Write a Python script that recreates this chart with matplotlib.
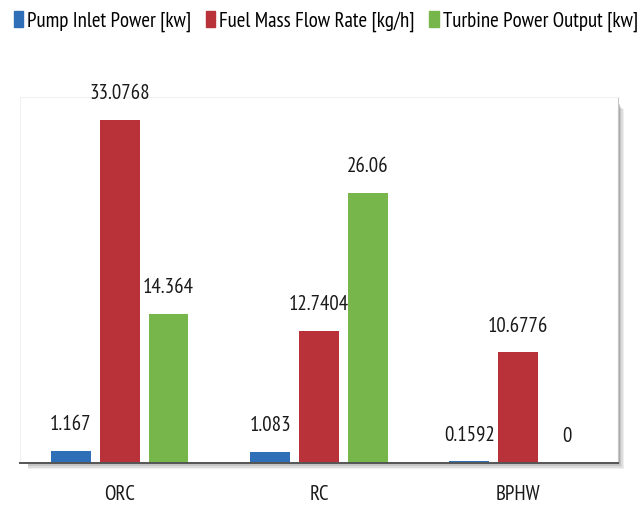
import matplotlib.pyplot as plt
import matplotlib.patches as mpatches
import numpy as np

plt.rcParams['font.family'] = ['PT Sans Narrow', 'DejaVu Sans']

categories = ['ORC', 'RC', 'BPHW']
series_names = ['Pump Inlet Power [kw]', 'Fuel Mass Flow Rate [kg/h]', 'Turbine Power Output [kw]']
pump_inlet = [1.167, 1.083, 0.1592]
fuel_flow = [33.0768, 12.7404, 10.6776]
turbine_out = [14.364, 26.06, 0]
value_labels = [['1.167', '1.083', '0.1592'],
                ['33.0768', '12.7404', '10.6776'],
                ['14.364', '26.06', '0']]

colors = ['#2f6fb7', '#b9323a', '#76b64b']

fig = plt.figure(figsize=(6.43, 5.12), dpi=100)
ax_rect = [0.031, 0.096, 0.930, 0.715]

# soft drop shadow along the right and bottom of the plot area
for i, a in enumerate([0.10, 0.15, 0.22, 0.32]):
    off = (4 - i) * 1.6
    fig.patches.append(mpatches.Rectangle(
        (ax_rect[0] + 8 / 643, ax_rect[1] - off / 512),
        ax_rect[2] - 8 / 643 + off / 643, ax_rect[3] - 6 / 512,
        transform=fig.transFigure, facecolor='#707070', alpha=a,
        edgecolor='none', zorder=0))

ax = fig.add_axes(ax_rect)
ax.set_zorder(1)
ax.set_facecolor('white')

x = np.arange(len(categories))
width = 0.2
step = 0.245
all_series = [pump_inlet, fuel_flow, turbine_out]
for k, (vals, c, name) in enumerate(zip(all_series, colors, series_names)):
    pos = x + (k - 1) * step
    ax.bar(pos, vals, width=width, color=c, label=name, zorder=2)
    for p, v, t in zip(pos, vals, value_labels[k]):
        ax.text(p, v + 1.6, t, ha='center', va='bottom', fontsize=15, color='#1a1a1a')

ax.set_xlim(-0.5, 2.5)
ax.set_ylim(0, 35.3)
ax.set_yticks([])
ax.set_xticks(x)
ax.set_xticklabels(categories, fontsize=15, color='#1a1a1a')
ax.tick_params(axis='x', length=0, pad=16)

for s in ['top', 'left']:
    ax.spines[s].set_color('#f0f0f0')
    ax.spines[s].set_linewidth(0.8)
ax.spines['right'].set_color('#c8c8c8')
ax.spines['bottom'].set_color('#555555')
ax.spines['bottom'].set_linewidth(1.4)

handles = [mpatches.Patch(color=c) for c in colors]
fig.legend(handles, series_names, loc='upper left', bbox_to_anchor=(0.0, 1.005),
           ncol=3, frameon=False, fontsize=15, handlelength=0.45, handleheight=0.8,
           handletextpad=0.2, columnspacing=0.7, borderaxespad=0.25)

fig.savefig('out.png', dpi=100)
